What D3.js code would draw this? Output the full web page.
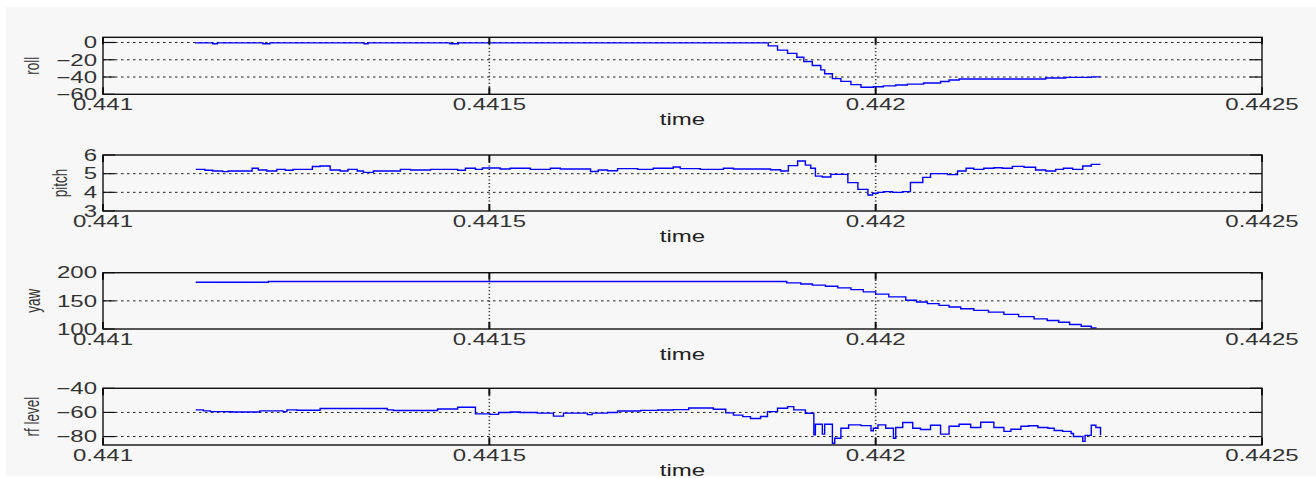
<!DOCTYPE html>
<html>
  <head>
    <meta charset="UTF-8" />
    <style>
      body { margin: 0; background: #fff; }
      svg { display: block; font-family: "Liberation Sans", Arial, sans-serif; }
    </style>
  </head>
  <body>
    <svg></svg>
    <script src="https://d3js.org/d3.v7.min.js"></script>
    <script>
      let width = 1316,
        height = 478;

      // x axis (shared by all four panels)
      let timeDomain = [0.441, 0.4425];
      let timeTicks = [0.441, 0.4415, 0.442, 0.4425];
      let timeTickLabels = ["0.441", "0.4415", "0.442", "0.4425"];

      // y axes
      let panelNames = ["roll", "pitch", "yaw", "rf level"];
      let rollDomain = [-60, 6], rollTicks = [-60, -40, -20, 0];
      let pitchDomain = [3, 6], pitchTicks = [3, 4, 5, 6];
      let yawDomain = [100, 200], yawTicks = [100, 150, 200];
      let rfDomain = [-87, -40], rfTicks = [-80, -60, -40];

      // [time, value] samples, held until the next sample
      let roll = [
        [0.441119, -0.5], [0.441142, -1.5], [0.441148, -0.5], [0.441207, -1.5],
        [0.441216, -0.5], [0.441338, -1.5], [0.441343, -0.5], [0.441449, -1.5],
        [0.44146, -0.5], [0.441861, -3.9], [0.441873, -8.8], [0.441886, -12.6],
        [0.441898, -17.1], [0.441907, -22.1], [0.441918, -26.7], [0.441929, -31.7],
        [0.441934, -36.2], [0.441944, -41.9], [0.441955, -45.0], [0.441968, -48.8],
        [0.441981, -51.9], [0.441997, -51.2], [0.44201, -50.2], [0.442026, -49.3],
        [0.442041, -48.2], [0.442062, -46.9], [0.442084, -45.2], [0.442095, -43.4],
        [0.442108, -42.2], [0.44222, -41.2], [0.442246, -40.4], [0.442279, -39.8],
        [0.442291, -39.8]
      ];

      let pitch = [
        [0.44112, 5.23], [0.441132, 5.18], [0.441142, 5.14], [0.441155, 5.11],
        [0.441162, 5.14], [0.441193, 5.29], [0.441201, 5.2], [0.441212, 5.14],
        [0.441225, 5.23], [0.441236, 5.18], [0.441246, 5.23], [0.441271, 5.38],
        [0.441281, 5.41], [0.441294, 5.2], [0.441307, 5.14], [0.441317, 5.23],
        [0.441329, 5.14], [0.441337, 5.07], [0.44135, 5.14], [0.441385, 5.23],
        [0.441398, 5.2], [0.441424, 5.23], [0.441459, 5.18], [0.441469, 5.29],
        [0.441482, 5.23], [0.441491, 5.3], [0.441514, 5.25], [0.441527, 5.29],
        [0.441553, 5.23], [0.441579, 5.29], [0.441592, 5.25], [0.441631, 5.12],
        [0.441641, 5.2], [0.441653, 5.16], [0.441666, 5.27], [0.441692, 5.23],
        [0.441712, 5.29], [0.441738, 5.36], [0.441747, 5.27], [0.441773, 5.23],
        [0.441803, 5.29], [0.441816, 5.25], [0.441864, 5.21], [0.441877, 5.14],
        [0.441887, 5.43], [0.441899, 5.68], [0.441909, 5.46], [0.441916, 5.29],
        [0.441922, 4.87], [0.441931, 4.82], [0.441942, 4.96], [0.441964, 4.52],
        [0.441977, 4.16], [0.44199, 3.86], [0.441996, 3.95], [0.442003, 4.0],
        [0.44201, 4.04], [0.442022, 4.0], [0.442035, 4.04], [0.442045, 4.53],
        [0.442061, 4.8], [0.442071, 5.0], [0.442093, 4.95], [0.442106, 5.14],
        [0.442117, 5.29], [0.442127, 5.23], [0.44214, 5.29], [0.442153, 5.32],
        [0.442164, 5.29], [0.442177, 5.39], [0.442192, 5.34], [0.442207, 5.2],
        [0.44222, 5.14], [0.442233, 5.23], [0.442243, 5.29], [0.442255, 5.23],
        [0.442268, 5.41], [0.442279, 5.5], [0.442291, 5.5]
      ];

      let yaw = [
        [0.44112, 183], [0.441214, 184.5], [0.441885, 182], [0.441903, 180],
        [0.441918, 178], [0.441935, 176], [0.441951, 173], [0.441968, 170],
        [0.441984, 166], [0.442, 162], [0.442017, 157], [0.442039, 151],
        [0.442053, 148], [0.442067, 145], [0.442082, 142], [0.442095, 139],
        [0.44211, 136], [0.442127, 133], [0.442146, 130], [0.442166, 126],
        [0.442185, 122], [0.442205, 118], [0.442222, 115], [0.442237, 112],
        [0.442251, 108], [0.442266, 105], [0.442279, 102], [0.442285, 101]
      ];

      let rfLevel = [
        [0.44112, -57.9], [0.44113, -58.7], [0.441139, -59.3], [0.441161, -59.5],
        [0.441168, -59.6], [0.441203, -58.7], [0.441233, -59.3], [0.441238, -57.9],
        [0.441251, -58.2], [0.441281, -56.8], [0.441368, -57.9], [0.441376, -58.4],
        [0.441433, -57.1], [0.441459, -55.7], [0.441482, -61.2], [0.441501, -61.6],
        [0.441512, -60.0], [0.441527, -59.6], [0.44154, -60.0], [0.441562, -60.6],
        [0.441583, -63.1], [0.441596, -60.6], [0.441627, -61.8], [0.441633, -60.6],
        [0.441653, -60.0], [0.441666, -58.8], [0.441696, -58.3], [0.441718, -58.0],
        [0.441738, -57.7], [0.441758, -56.3], [0.44179, -57.4], [0.441806, -60.4],
        [0.441816, -62.2], [0.441828, -63.5], [0.441838, -65.0], [0.441851, -63.4],
        [0.44186, -59.3], [0.441873, -56.5], [0.441886, -55.2], [0.441894, -57.9],
        [0.441909, -60.7], [0.44192, -78.6], [0.441922, -69.8], [0.441931, -78.0],
        [0.441934, -69.8], [0.441944, -85.5], [0.441947, -81.4], [0.441955, -73.1],
        [0.441965, -70.3], [0.441981, -70.9], [0.441994, -75.2], [0.441997, -73.1],
        [0.442003, -70.3], [0.442013, -73.1], [0.442023, -81.4], [0.442026, -72.5],
        [0.442035, -68.4], [0.442048, -73.1], [0.442058, -74.2], [0.442071, -70.6],
        [0.442084, -78.0], [0.442095, -71.5], [0.442108, -69.8], [0.442123, -72.5],
        [0.442136, -68.1], [0.442153, -72.5], [0.442166, -75.7], [0.442175, -74.0],
        [0.442188, -71.5], [0.442198, -71.0], [0.44221, -72.5], [0.442223, -73.1],
        [0.442231, -75.0], [0.442242, -75.7], [0.442253, -77.5], [0.442256, -80.0],
        [0.442268, -84.0], [0.442271, -79.0], [0.442279, -70.6], [0.442285, -72.5],
        [0.442291, -79.0]
      ];

      let panels = [
        { name: panelNames[0], domain: rollDomain, ticks: rollTicks, data: roll, top: 37.3, bottom: 94.3 },
        { name: panelNames[1], domain: pitchDomain, ticks: pitchTicks, data: pitch, top: 155, bottom: 211 },
        { name: panelNames[2], domain: yawDomain, ticks: yawTicks, data: yaw, top: 272.7, bottom: 329 },
        { name: panelNames[3], domain: rfDomain, ticks: rfTicks, data: rfLevel, top: 388.3, bottom: 445 }
      ];

      let left = 103, right = 1262;
      let stretch = 1.5; // the picture is widened, text too

      let svg = d3.select("svg").attr("width", width).attr("height", height);

      svg.append("rect")
        .attr("x", 6).attr("y", 7)
        .attr("width", width - 6).attr("height", 469)
        .attr("fill", "#f7f7f7");

      let x = d3.scaleLinear().domain(timeDomain).range([left, right]);

      function wideText(sel, tx, ty) {
        return sel.attr("transform", `translate(${tx},${ty}) scale(${stretch},1)`);
      }

      panels.forEach((p) => {
        let y = d3.scaleLinear().domain(p.domain).range([p.bottom, p.top]);
        let g = svg.append("g");

        // horizontal grid
        g.selectAll(".hgrid")
          .data(p.ticks.filter((t) => y(t) > p.top + 1 && y(t) < p.bottom - 1))
          .join("line")
          .attr("x1", left).attr("x2", right)
          .attr("y1", (d) => y(d)).attr("y2", (d) => y(d))
          .attr("stroke", "#222")
          .attr("stroke-width", 1)
          .attr("stroke-dasharray", "2.5,3.5");

        // vertical grid
        g.selectAll(".vgrid")
          .data(timeTicks.slice(1, -1))
          .join("line")
          .attr("x1", (d) => x(d)).attr("x2", (d) => x(d))
          .attr("y1", p.top).attr("y2", p.bottom)
          .attr("stroke", "#111")
          .attr("stroke-width", 1.6)
          .attr("stroke-dasharray", "1,2.5");

        // the data, as stairs
        let line = d3.line()
          .curve(d3.curveStepAfter)
          .x((d) => x(d[0]))
          .y((d) => y(d[1]));
        g.append("path")
          .datum(p.data)
          .attr("d", line)
          .attr("fill", "none")
          .attr("stroke", "#0000ff")
          .attr("stroke-width", 1.4);

        // box
        g.append("rect")
          .attr("x", left).attr("y", p.top)
          .attr("width", right - left).attr("height", p.bottom - p.top)
          .attr("fill", "none")
          .attr("stroke", "#111")
          .attr("stroke-width", 1.4);

        // x ticks, inward on top and bottom
        timeTicks.forEach((t) => {
          g.append("line")
            .attr("x1", x(t)).attr("x2", x(t))
            .attr("y1", p.bottom).attr("y2", p.bottom - 7)
            .attr("stroke", "#111").attr("stroke-width", 2);
          g.append("line")
            .attr("x1", x(t)).attr("x2", x(t))
            .attr("y1", p.top).attr("y2", p.top + 7)
            .attr("stroke", "#111").attr("stroke-width", 2);
        });

        // y ticks, inward on left and right
        p.ticks.forEach((t) => {
          g.append("line")
            .attr("x1", left).attr("x2", left + 12)
            .attr("y1", y(t)).attr("y2", y(t))
            .attr("stroke", "#111").attr("stroke-width", 1.2);
          g.append("line")
            .attr("x1", right).attr("x2", right - 12)
            .attr("y1", y(t)).attr("y2", y(t))
            .attr("stroke", "#111").attr("stroke-width", 1.2);
        });

        // y tick labels
        let yLabels = g.selectAll(".ylab")
          .data(p.ticks)
          .join("text")
          .attr("font-size", 16)
          .attr("fill", "#333")
          .attr("text-anchor", "end")
          .attr("dy", "0.36em")
          .text((d) => String(d).replace("-", "\u2212"))
          .each(function (d) {
            wideText(d3.select(this), left - 6, y(d));
          });

        // x tick labels
        g.selectAll(".xlab")
          .data(timeTicks)
          .join("text")
          .attr("font-size", 16)
          .attr("fill", "#333")
          .attr("text-anchor", "middle")
          .text((d, i) => timeTickLabels[i])
          .each(function (d) {
            wideText(d3.select(this), x(d), p.bottom + 16);
          });

        // x axis title
        wideText(
          g.append("text")
            .attr("font-size", 16)
            .attr("fill", "#222")
            .attr("text-anchor", "middle")
            .text("time"),
          (left + right) / 2,
          p.bottom + 30.5
        );

        // y axis title, placed left of the widest tick label
        let minLeft = d3.min(yLabels.nodes(), (n) => n.getBoundingClientRect().left);
        g.append("text")
          .attr("font-size", 13.5)
          .attr("fill", "#333")
          .attr("text-anchor", "middle")
          .attr("transform", `translate(${minLeft - 17},${(p.top + p.bottom) / 2}) scale(${stretch},1) rotate(-90)`)
          .text(p.name);
      });
    </script>
  </body>
</html>
